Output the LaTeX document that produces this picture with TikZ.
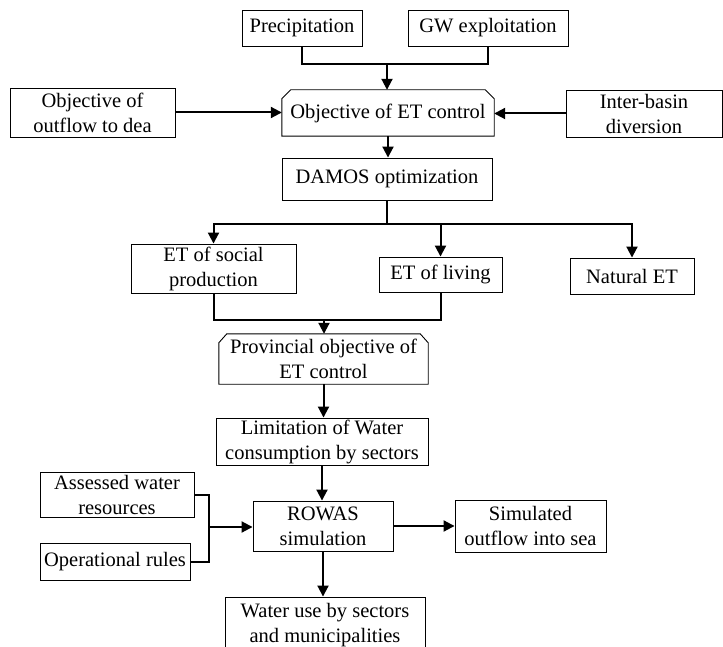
\documentclass[tikz,border=0pt]{standalone}
\usepackage{fontspec}
\setmainfont{Liberation Serif}
\usetikzlibrary{arrows.meta,calc}
\newcommand\dfont{\fontsize{20.5}{25}\selectfont}
\tikzset{
  box/.style={draw, line width=0.9pt, inner sep=0pt, align=center, font=\dfont},
  cbox/.style={draw=none, inner sep=0pt, align=center, font=\dfont},
  bline/.style={line width=0.9pt, line join=miter},
  conn/.style={line width=2pt, line join=miter},
  arr/.style={conn, -{Triangle[length=11pt,width=11pt]}},
}
\begin{document}
\begin{tikzpicture}[x=1pt,y=-1pt]
\useasboundingbox (0,0) rectangle (723,647);
\clip (0,0) rectangle (723,647);
% nodes
\node[box, minimum width=120pt, minimum height=36pt] (prec) at (302,28) {Precipitation};
\node[box, minimum width=160pt, minimum height=36pt] (gw) at (488,28) {GW exploitation};
\node[box, minimum width=165pt, minimum height=49pt] (outf) at (92.5,112.5) {Objective of\\outflow to dea};
\node[cbox, minimum width=212pt, minimum height=46pt] (etc) at (388,113) {Objective of ET control};
\node[box, minimum width=156pt, minimum height=47pt] (inter) at (644,113.5) {Inter-basin\\diversion};
\node[box, minimum width=210pt, minimum height=42pt] (damos) at (387,179) {DAMOS optimization};
\node[box, minimum width=165pt, minimum height=49pt] (soc) at (213.5,268.5) {ET of social\\production};
\node[box, minimum width=123pt, minimum height=35pt] (liv) at (440.5,274.5) {ET of living};
\node[box, minimum width=124pt, minimum height=36pt] (nat) at (632,276) {Natural ET};
\node[cbox, minimum width=209pt, minimum height=50pt] (prov) at (323.5,359) {Provincial objective of\\ET control};
\node[box, minimum width=212pt, minimum height=47pt] (lim) at (322,441.5) {Limitation of Water\\consumption by sectors};
\node[box, minimum width=140pt, minimum height=50pt] (rowas) at (323,526) {ROWAS\\simulation};
\node[box, minimum width=151pt, minimum height=52pt] (sim) at (530.5,526) {Simulated\\outflow into sea};
\node[box, minimum width=154pt, minimum height=45pt] (ass) at (117,494.5) {Assessed water\\resources};
\node[box, minimum width=150pt, minimum height=37pt] (oper) at (115,561.5) {Operational rules};
\node[box, minimum width=200pt, minimum height=56pt] (wat) at (325,625) {Water use by sectors\\and municipalities};
% chamfered outlines
\draw[bline] (etc.south west) -- ([yshift=-9pt]etc.north west) -- ([xshift=9pt]etc.north west)
  -- ([xshift=-9pt]etc.north east) -- ([yshift=-9pt]etc.north east) -- (etc.south east) -- cycle;
\draw[bline] (prov.south west) -- ([yshift=-9pt]prov.north west) -- ([xshift=8pt]prov.north west)
  -- ([xshift=-8pt]prov.north east) -- ([yshift=-9pt]prov.north east) -- (prov.south east) -- cycle;
% connectors
\coordinate (j1) at (387,64);
\draw[conn] (prec.south) |- (j1) -| (gw.south);
\draw[arr] (j1) -- (j1 |- etc.north);
\draw[arr] (outf.east) -- (outf.east -| etc.west);
\draw[arr] (inter.west) -- (inter.west -| etc.east);
\draw[arr] (etc.south) -- (etc.south |- damos.north);
\coordinate (b) at (387,224);
\draw[arr] (damos.south) -- (b) -- (b -| soc.north) -- (soc.north);
\draw[arr] (b) -- (b -| liv.north) -- (liv.north);
\draw[arr] (b -| liv.north) -- (b -| nat.north) -- (nat.north);
\coordinate (m) at (324,320);
\draw[conn] (soc.south) |- (m) -| (liv.south);
\draw[arr] (m) -- (m |- prov.north);
\draw[arr] (prov.south) -- (prov.south |- lim.north);
\draw[arr] (lim.south) -- (lim.south |- rowas.north);
\coordinate (k) at (209,527);
\draw[conn] (ass.east) -| (k) |- (oper.east);
\draw[arr] (k) -- (k -| rowas.west);
\draw[arr] (rowas.east) -- (rowas.east -| sim.west);
\draw[arr] (rowas.south) -- (rowas.south |- wat.north);
\end{tikzpicture}
\end{document}
